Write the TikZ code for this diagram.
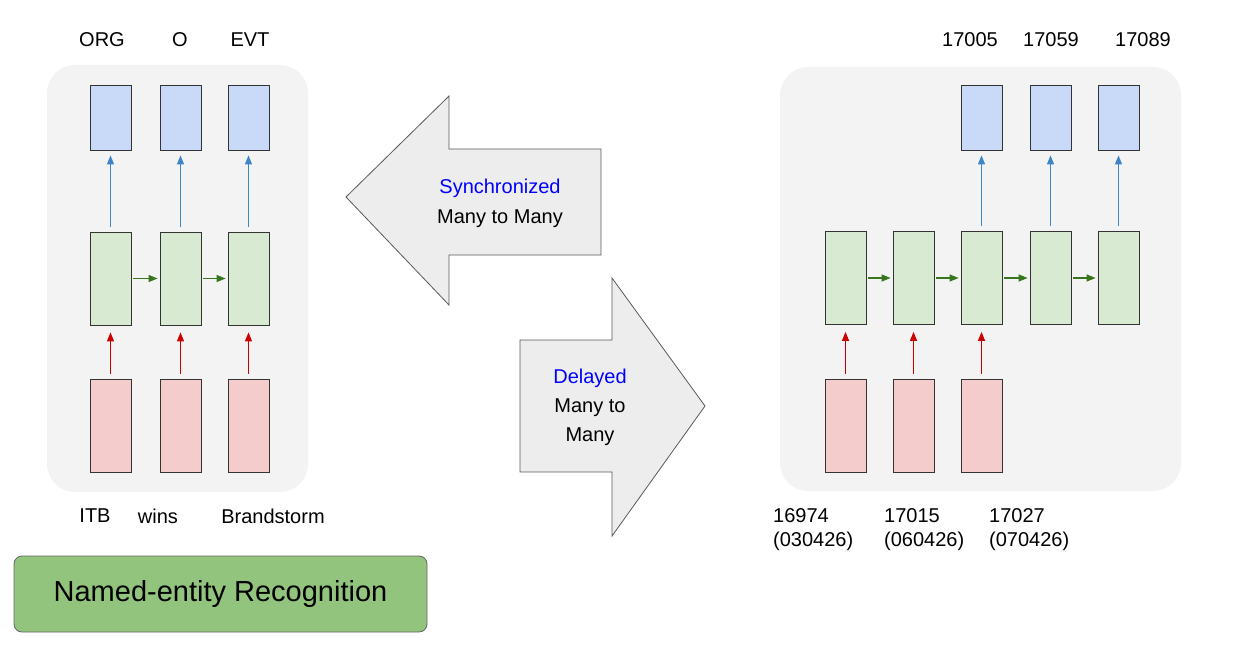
\documentclass[tikz,border=0pt]{standalone}
\usepackage{fontspec}
\setmainfont{Liberation Sans}
\usetikzlibrary{arrows.meta}
\definecolor{bfill}{HTML}{C9DAF8}
\definecolor{gfill}{HTML}{D9EAD3}
\definecolor{rfill}{HTML}{F4CCCC}
\definecolor{panel}{HTML}{F3F3F3}
\definecolor{barrow}{HTML}{3D85C6}
\definecolor{garrow}{HTML}{38761D}
\definecolor{rarrow}{HTML}{CC0000}
\definecolor{nerg}{HTML}{93C47D}
\begin{document}
\begin{tikzpicture}[x=1pt,y=-1pt,
  cell/.style={draw=black!80,line width=0.8pt,minimum width=41pt,minimum height=#1,inner sep=0pt},
  bcell/.style={cell=65pt,fill=bfill},
  gcell/.style={cell=93pt,fill=gfill},
  rcell/.style={cell=93pt,fill=rfill},
  lab/.style={font=\fontsize{20}{24}\selectfont,inner sep=0pt},
  pan/.style={fill=panel,draw=none,rounded corners=28pt},
  ba/.style={-{Triangle[width=7pt,length=9pt]},barrow,line width=1.2pt,shorten >=5pt,shorten <=5pt},
  ga/.style={-{Triangle[width=7pt,length=9pt]},garrow,line width=1.2pt,shorten >=2pt,shorten <=2pt},
  ra/.style={-{Triangle[width=7pt,length=9pt]},rarrow,line width=1.2pt,shorten >=7pt,shorten <=5pt},
  big/.style={fill=black!7,draw=black!65,line width=0.8pt,line join=miter}]
\useasboundingbox (0,0) rectangle (1249,652);
% left panel
\fill[pan] (47,65) rectangle (308,492);
\foreach \i/\x in {1/110.5,2/180.5,3/248.5}{
  \node[bcell] (lb\i) at (\x,117.5) {};
  \node[gcell] (lg\i) at (\x,278.5) {};
  \node[rcell] (lr\i) at (\x,425.5) {};
  \draw[ba] (lg\i) -- (lb\i);
  \draw[ra] (lr\i) -- (lg\i);
}
\draw[ga] (lg1) -- (lg2); \draw[ga] (lg2) -- (lg3);
\node[lab] (t1) at (102,40) {ORG};
\node[lab] (t2) at (180,40) {O};
\node[lab] (t3) at (250,40) {EVT};
\node[lab] (w1) at (95,516) {ITB};
\node[lab] (w2) at (158,516) {wins};
\node[lab] (w3) at (273,516) {Brandstorm};
% right panel
\fill[pan] (780,67) rectangle (1181,491);
\foreach \i/\x in {1/845.5,2/913.5,3/981.5,4/1050.5,5/1118.5}{
  \node[gcell] (rg\i) at (\x,278) {};
}
\foreach \i/\x in {3/981.5,4/1050.5,5/1118.5}{
  \node[bcell] (rb\i) at (\x,117.5) {};
  \draw[ba] (rg\i) -- (rb\i);
}
\foreach \i/\x in {1/845.5,2/913.5,3/981.5}{
  \node[rcell] (rr\i) at (\x,425.5) {};
  \draw[ra] (rr\i) -- (rg\i);
}
\draw[ga] (rg1) -- (rg2); \draw[ga] (rg2) -- (rg3);
\draw[ga] (rg3) -- (rg4); \draw[ga] (rg4) -- (rg5);
\node[lab] (o1) at (970,40) {17005};
\node[lab] (o2) at (1051,40) {17059};
\node[lab] (o3) at (1143,40) {17089};
\node[lab,align=left,anchor=west] (i1) at (773,530) {16974\\(030426)};
\node[lab,align=left,anchor=west] (i2) at (884,530) {17015\\(060426)};
\node[lab,align=left,anchor=west] (i3) at (989,530) {17027\\(070426)};
% big arrows
\draw[big] (346,197) -- (449,96) -- (449,149) -- (601,149) -- (601,255) -- (449,255) -- (449,305) -- cycle;
\node[lab,align=center] (s) at (500,203) {\textcolor{blue}{Synchronized}\\[6pt]Many to Many};
\draw[big] (705,406) -- (612,278) -- (612,340) -- (520,340) -- (520,472) -- (612,472) -- (612,536) -- cycle;
\node[lab,align=center] (d) at (590,407) {\textcolor{blue}{Delayed}\\[5pt]Many to\\[5pt]Many};
% NER box
\node[fill=nerg,draw=black!60,line width=0.8pt,rounded corners=8pt,minimum width=413pt,minimum height=76pt,font=\fontsize{29}{34}\selectfont] (ner) at (220.5,594) {Named-entity Recognition};
\end{tikzpicture}
\end{document}
